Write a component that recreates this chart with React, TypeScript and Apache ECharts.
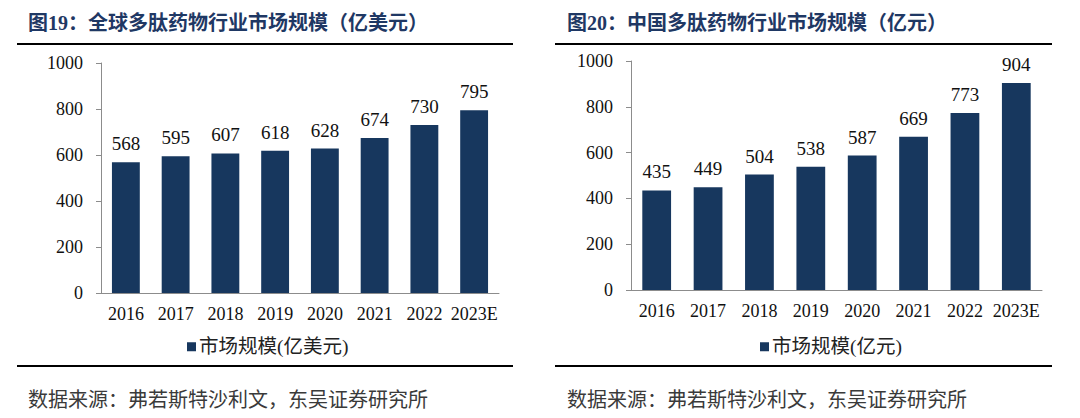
import React, { useEffect, useRef } from "react";
import * as echarts from "echarts";

const years = ["2016", "2017", "2018", "2019", "2020", "2021", "2022", "2023E"];
const globalValues = [568, 595, 607, 618, 628, 674, 730, 795];
const chinaValues = [435, 449, 504, 538, 587, 669, 773, 904];
const yTicks = [0, 200, 400, 600, 800, 1000];
const titleLeft = "图19：全球多肽药物行业市场规模（亿美元）";
const titleRight = "图20：中国多肽药物行业市场规模（亿元）";
const legendLeft = "市场规模(亿美元)";
const legendRight = "市场规模(亿元)";
const source = "数据来源：弗若斯特沙利文，东吴证券研究所";

const SERIF = '"Liberation Serif", "Times New Roman", "Noto Sans CJK SC", serif';
const CJK = '"Liberation Serif", "Noto Sans CJK SC", serif';
const BAR = "#17375E";
const TITLE = "#1F3864";

export default function App() {
  const ref = useRef<HTMLDivElement>(null);
  useEffect(() => {
    if (!ref.current) return;
    const chart = echarts.init(ref.current, undefined, { renderer: "svg" });
    const yAxis = (gi: number) => ({
      type: "value",
      gridIndex: gi,
      min: yTicks[0],
      max: yTicks[yTicks.length - 1],
      interval: 200,
      axisLine: { show: true, lineStyle: { color: "#8C8C8C", width: 1 } },
      axisTick: { show: true, length: 5, lineStyle: { color: "#8C8C8C" } },
      splitLine: { show: false },
      axisLabel: {
        color: "#111",
        fontFamily: SERIF,
        fontSize: 18,
        margin: 18,
        formatter: (v: number) => String(v),
      },
    });
    const xAxis = (gi: number) => ({
      type: "category",
      gridIndex: gi,
      data: years,
      axisLine: { show: true, lineStyle: { color: "#8C8C8C", width: 1 } },
      axisTick: { show: false },
      axisLabel: { color: "#111", fontFamily: SERIF, fontSize: 18, margin: 12, interval: 0 },
    });
    const series = (gi: number, name: string, data: number[]) => ({
      type: "bar",
      name,
      xAxisIndex: gi,
      yAxisIndex: gi,
      data,
      barWidth: "56%",
      itemStyle: { color: BAR },
      label: {
        show: true,
        position: "top",
        distance: 9,
        color: "#111",
        fontFamily: SERIF,
        fontSize: 19,
      },
    });
    const titleText = (x: number, text: string) => ({
      type: "text",
      x,
      y: 13,
      style: { text, fill: TITLE, font: `bold 20px ${CJK}` },
    });
    const hline = (x1: number, x2: number, y: number) => ({
      type: "line",
      shape: { x1, y1: y, x2, y2: y },
      style: { stroke: "#000", lineWidth: 2 },
    });
    const footer = (x: number) => ({
      type: "text",
      x,
      y: 390,
      style: { text: source, fill: "#3a3a3a", font: `20px ${CJK}` },
    });
    const legend = (left: number, name: string) => ({
      data: [name],
      left,
      top: 332,
      itemWidth: 9,
      itemHeight: 9,
      itemGap: 6,
      icon: "rect",
      textStyle: { fontFamily: CJK, fontSize: 19.5, color: "#222", padding: [0, 0, 0, -2] },
    });
    chart.setOption({
      animation: false,
      grid: [
        { left: 101, top: 63, width: 398, height: 230 },
        { left: 631, top: 61, width: 411, height: 229 },
      ],
      xAxis: [xAxis(0), xAxis(1)],
      yAxis: [yAxis(0), yAxis(1)],
      legend: [legend(182, legendLeft), legend(755, legendRight)],
      series: [series(0, legendLeft, globalValues), series(1, legendRight, chinaValues)],
      graphic: [
        titleText(28, titleLeft),
        titleText(567, titleRight),
        hline(17, 513, 44),
        hline(555, 1052, 44),
        hline(17, 513, 366),
        hline(555, 1052, 366),
        footer(28),
        footer(567),
      ],
    });
    return () => chart.dispose();
  }, []);
  return (
    <div
      ref={ref}
      style={{ position: "fixed", left: 0, top: 0, width: 1080, height: 418, background: "#fff" }}
    />
  );
}
